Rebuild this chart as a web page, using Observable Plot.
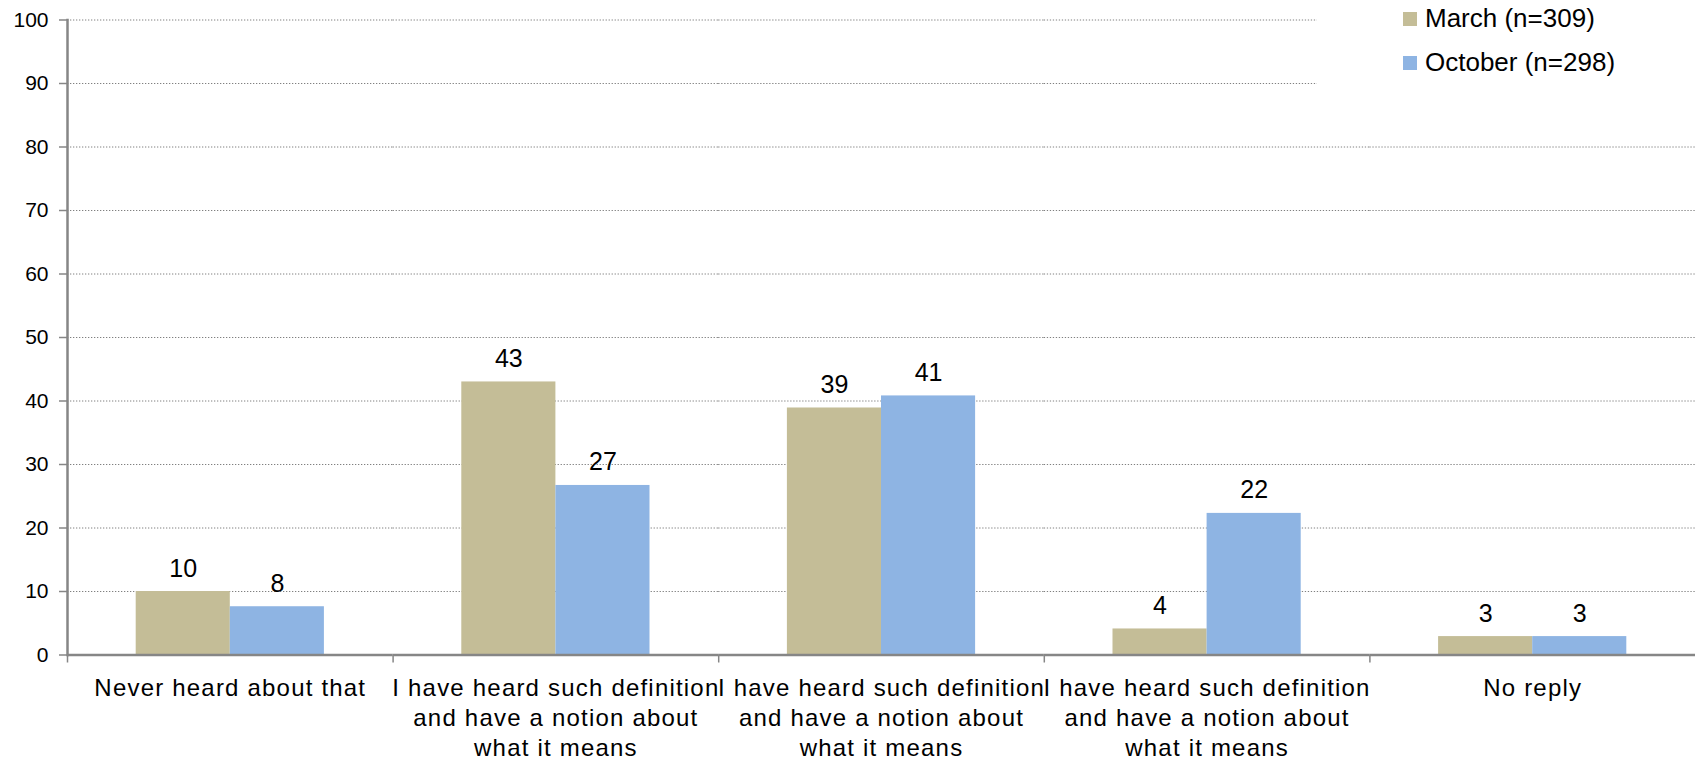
<!DOCTYPE html>
<html>
<head>
<meta charset="utf-8">
<script src="https://cdn.jsdelivr.net/npm/d3@7"></script>
<script src="https://cdn.jsdelivr.net/npm/@observablehq/plot@0.6"></script>
<style>
  html, body { margin: 0; padding: 0; background: #fff; overflow: hidden; }
  #wrap { position: relative; width: 1695px; height: 762px; font-family: "Liberation Sans", Arial, sans-serif; }
  #wrap svg { font-family: "Liberation Sans", Arial, sans-serif; }
  #wrap g[aria-label="fx-axis tick label"] text { letter-spacing: 1.2px; }
  .legend { position: absolute; left: 1317px; top: 0; width: 378px; height: 100px; background: #fff;
            font-size: 26px; color: #000; }
  .legend .item { position: absolute; left: 86px; display: flex; align-items: center; white-space: nowrap; }
  .legend .sw { width: 14px; height: 14px; margin-right: 8px; }
</style>
</head>
<body>
<div id="wrap"></div>
<script>
// ---- data ----
const categories = [
  "Never heard about that",
  "I have heard such definition\nand have a notion about\nwhat it means",
  "I have heard such definition\nand have a notion about\nwhat it means",
  "I have heard such definition\nand have a notion about\nwhat it means",
  "No reply"
];
const seriesKeys = ["March", "October"];
const seriesLabels = ["March (n=309)", "October (n=298)"];
const marchValues = [10.0, 43.0, 38.9, 4.1, 2.9];
const octoberValues = [7.6, 26.7, 40.8, 22.3, 2.9];
const seriesColors = ["#C4BD97", "#8EB4E3"];
const yTicks = [0, 10, 20, 30, 40, 50, 60, 70, 80, 90, 100];

// ---- table ----
const rows = [];
categories.forEach((c, i) => {
  rows.push({cat: i, series: seriesKeys[0], value: marchValues[i]});
  rows.push({cat: i, series: seriesKeys[1], value: octoberValues[i]});
});

const W = 1695, H = 762, ML = 67, MR = 0;
const halfBand = (W - ML - MR) / categories.length / 2;

const chart = Plot.plot({
  width: W,
  height: H,
  marginTop: 19.5,
  marginBottom: 107.5,
  marginLeft: ML,
  marginRight: MR,
  style: {fontFamily: '"Liberation Sans", Arial, sans-serif', background: "#fff", overflow: "visible"},
  fx: {domain: d3.range(categories.length), padding: 0, label: null, round: false},
  x: {domain: seriesKeys, paddingInner: 0, paddingOuter: 0.73, axis: null, round: false},
  y: {domain: [0, 100], label: null},
  color: {domain: seriesKeys, range: seriesColors},
  marks: [
    Plot.ruleY(yTicks.filter(d => d > 0), {stroke: "#808080", strokeWidth: 1, strokeDasharray: "1.3,1.7"}),
    Plot.barY(rows, {fx: "cat", x: "series", y: "value", fill: "series"}),
    Plot.text(rows, {fx: "cat", x: "series", y: "value", text: d => d3.format(".0f")(d.value),
      lineAnchor: "bottom", dy: -15, fontSize: 25, fill: "#000"}),
    Plot.ruleY([0], {stroke: "#868686", strokeWidth: 2.5}),
    Plot.frame({anchor: "left", facetAnchor: "left", stroke: "#868686", strokeWidth: 2.5}),
    Plot.axisY({ticks: yTicks, tickSize: 8, tickPadding: 11, fontSize: 21, stroke: "#868686", strokeWidth: 1.5, fill: "#000", label: null}),
    Plot.axisFx({anchor: "bottom", tickSize: 8, text: null, dx: -halfBand, stroke: "#868686", strokeWidth: 1.5, label: null}),
    Plot.axisFx({anchor: "bottom", tickSize: 0, tickPadding: 20, fontSize: 24, lineHeight: 1.25,
      tickFormat: i => categories[i], fill: "#000", label: null})
  ]
});

const wrap = document.getElementById("wrap");
wrap.appendChild(chart);

// legend overlay (top right)
const legend = document.createElement("div");
legend.className = "legend";
seriesLabels.forEach((lab, i) => {
  const it = document.createElement("div");
  it.className = "item";
  it.style.top = (i === 0 ? 3 : 47) + "px";
  const sw = document.createElement("span");
  sw.className = "sw";
  sw.style.background = seriesColors[i];
  const tx = document.createElement("span");
  tx.textContent = lab;
  it.appendChild(sw);
  it.appendChild(tx);
  legend.appendChild(it);
});
wrap.appendChild(legend);
</script>
</body>
</html>
